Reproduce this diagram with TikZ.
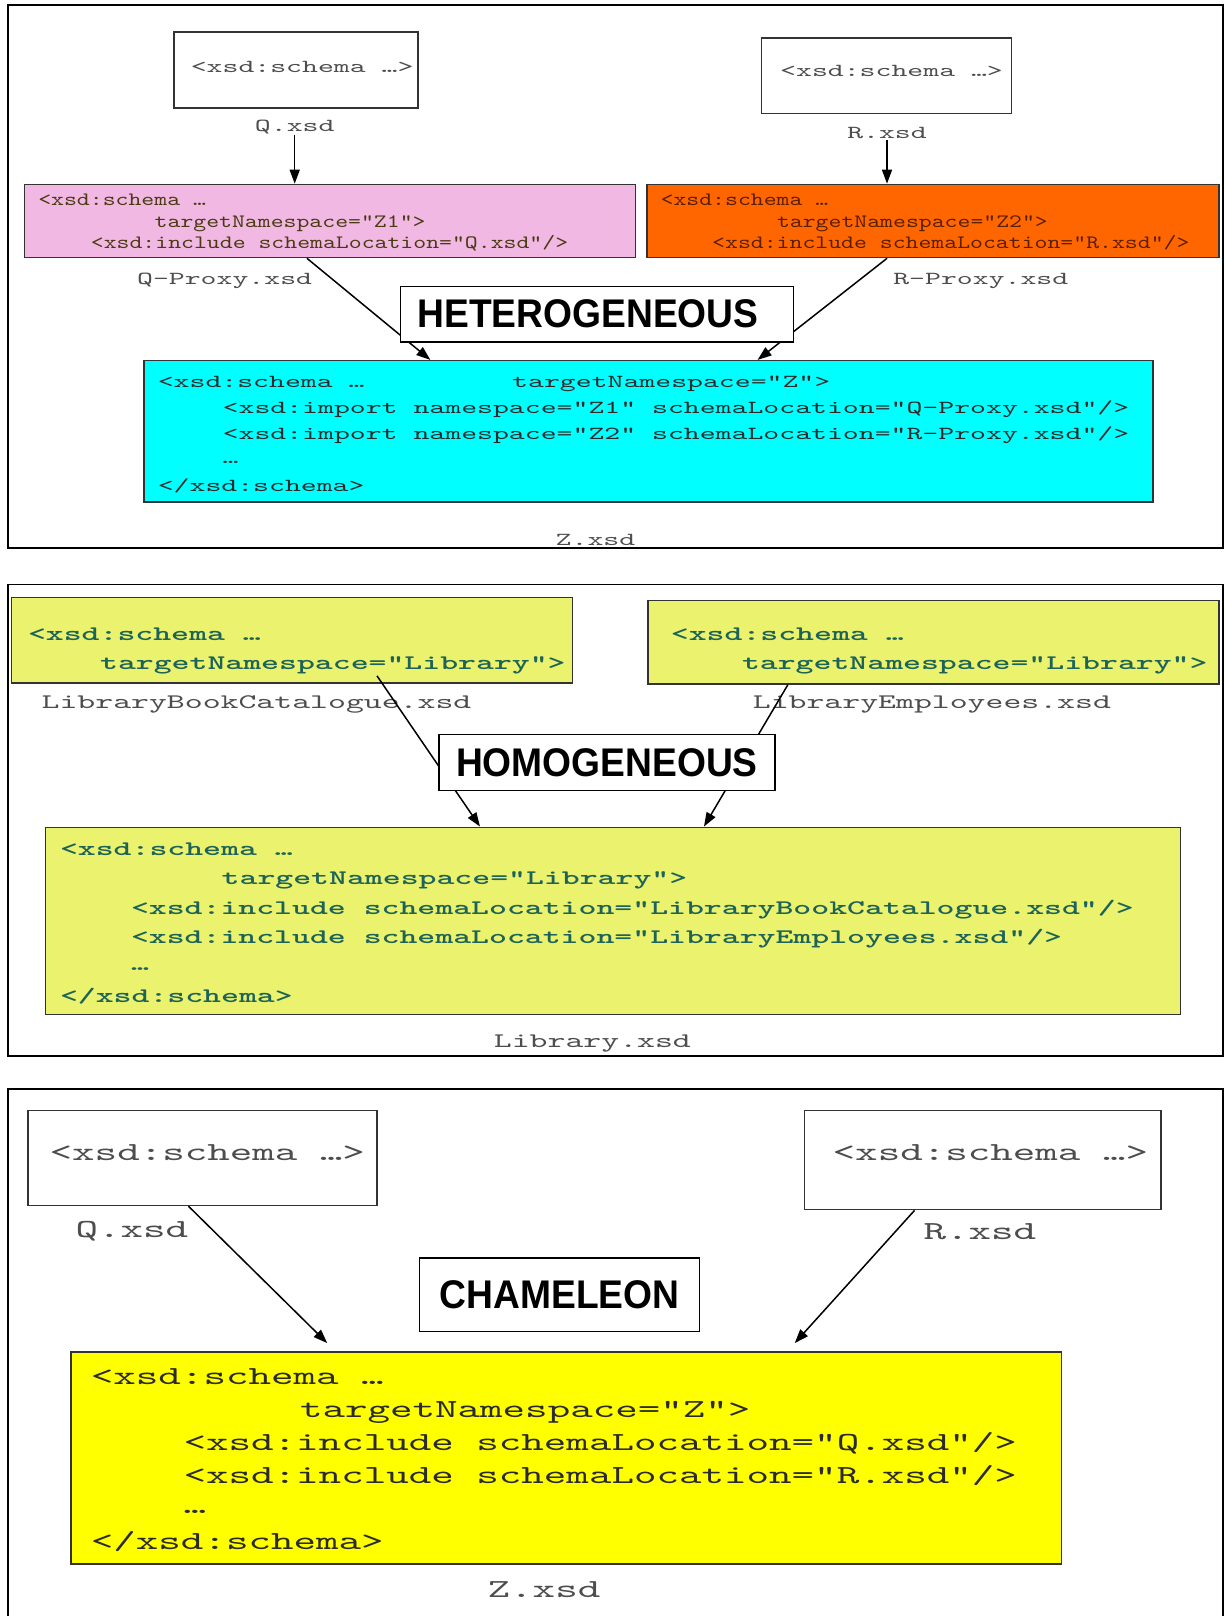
\documentclass[tikz,border=0pt]{standalone}
\usepackage{fontspec}
\usepackage{tikz}
\usetikzlibrary{arrows.meta,calc}
\newfontfamily\codefont{lmmono10-regular}[Extension=.otf,BoldFont=lmmonolt10-bold,FakeStretch=1.65]
\newfontfamily\codemidfont{lmmono10-regular}[Extension=.otf,FakeStretch=1.3]
\newfontfamily\titlefont{Liberation Sans}[FakeStretch=0.93]
\definecolor{pinkfill}{HTML}{F2B8E4}
\definecolor{orangefill}{HTML}{FF6600}
\definecolor{cyanfill}{HTML}{00FFFF}
\definecolor{limefill}{HTML}{EBF36E}
\definecolor{yellowfill}{HTML}{FFFF00}
\definecolor{pinktext}{HTML}{4A3A12}
\definecolor{orangetext}{HTML}{5A1E00}
\definecolor{tealtext}{HTML}{1D6358}
\definecolor{graytext}{HTML}{4D4D4D}
\definecolor{darktext}{HTML}{2B2B2B}

\begin{document}
\begin{tikzpicture}[x=1pt,y=-1pt]

    \tikzset{FR/.style={draw=black,line width=1.4pt}}
    \tikzset{BX/.style={draw=black!80,line width=1.4pt,inner sep=0pt}}
    \tikzset{TB/.style={draw=black,line width=1.4pt,fill=white,inner sep=0pt,font=\titlefont\bfseries\fontsize{40}{44}\selectfont}}
    \tikzset{CL/.style={anchor=mid west,inner sep=0pt,yshift=-5pt}}
    \tikzset{LB/.style={inner sep=1pt,text=graytext,yshift=-3pt}}
    \tikzset{AR/.style={draw=black,line width=1.5pt,-{Triangle[length=14pt,width=10pt]}}}
    \tikzset{PA/.style={font=\codefont\fontsize{18.36}{22}\selectfont}}
    \tikzset{PB/.style={font=\codemidfont\fontsize{18.9}{22}\selectfont}}
    \tikzset{PC/.style={font=\codefont\fontsize{20.67}{24}\selectfont}}
    \tikzset{PCB/.style={font=\codefont\bfseries\fontsize{20.67}{24}\selectfont,text=tealtext}}
    \tikzset{PD/.style={font=\codefont\fontsize{26}{30}\selectfont}}

    \useasboundingbox (0,0) rectangle (1225,1616);
    \fill[white] (0,0) rectangle (1225,1616);

    \draw[FR] (8,5) rectangle (1223,548);
    \node (q) [BX,minimum width=244,minimum height=76] at (296,70) {};
    	\node (qt) [CL,PA,text=graytext] at (190.6,65) {<xsd:schema …>};
    	\node (ql) [LB,PA] at (294.7,123.6) {Q.xsd};
    \node (r) [BX,minimum width=250.3,minimum height=75.3] at (886.5,75.6) {};
    	\node (rt) [CL,PA,text=graytext] at (780,69) {<xsd:schema …>};
    	\node (rl) [LB,PA] at (887,129.8) {R.xsd};
    \node (qp) [BX,fill=pinkfill,minimum width=611,minimum height=73.2] at (330.2,221) {};
    	\node (qp1) [CL,PB,text=pinktext] at (38.1,198.8) {<xsd:schema …};
    	\node (qp2) [CL,PB,text=pinktext] at (154.5,220.5) {targetNamespace="Z1">};
    	\node (qp3) [CL,PB,text=pinktext] at (90.7,241.1) {<xsd:include schemaLocation="Q.xsd"/>};
    	\node (qpl) [LB,PA] at (224.6,278.2) {Q-Proxy.xsd};
    \node (rp) [BX,fill=orangefill,minimum width=571.8,minimum height=73.2] at (932.9,221) {};
    	\node (rp1) [CL,PB,text=orangetext] at (660.4,198.8) {<xsd:schema …};
    	\node (rp2) [CL,PB,text=orangetext] at (776.8,220.5) {targetNamespace="Z2">};
    	\node (rp3) [CL,PB,text=orangetext] at (712,241.1) {<xsd:include schemaLocation="R.xsd"/>};
    	\node (rpl) [LB,PA] at (980.8,278.2) {R-Proxy.xsd};
    \node (z) [BX,fill=cyanfill,minimum width=1008.7,minimum height=141.2] at (648.5,431.2) {};
    	\node (z1) [CL,PA,text=darktext] at (157.6,380) {<xsd:schema …};
    	\node (z1b) [CL,PA,text=darktext] at (512,380) {targetNamespace="Z">};
    	\node (z2) [CL,PA,text=darktext] at (222.5,406) {<xsd:import namespace="Z1" schemaLocation="Q-Proxy.xsd"/>};
    	\node (z3) [CL,PA,text=darktext] at (222.5,432) {<xsd:import namespace="Z2" schemaLocation="R-Proxy.xsd"/>};
    	\node (z4) [CL,PA,text=darktext] at (222.5,456) {…};
    	\node (z5) [CL,PA,text=darktext] at (157.6,484) {</xsd:schema>};
    	\node (zl) [LB,PA] at (595.5,536.8) {Z.xsd};

    \path[AR] (ql.south) -- (ql.south |- qp.north);
    \path[AR] (rl.south) -- (rl.south |- rp.north);
    \path[AR] ($(qp.south west)!0.462!(qp.south east)$) -- ($(z.north west)!0.284!(z.north east)$);
    \path[AR] ($(rp.south west)!0.42!(rp.south east)$) -- ($(z.north west)!0.608!(z.north east)$);
    \node (het) [TB,minimum width=392.5,minimum height=55.6] at (597,314.2) {HETEROGENEOUS\hspace*{18pt}};

    \draw[FR] (8,584.2) rectangle (1223,1056);
    \node (lb) [BX,fill=limefill,minimum width=561.5,minimum height=85.5] at (292,640.4) {};
    	\node (lb1) [CL,PCB] at (27.8,633.6) {<xsd:schema …};
    	\node (lb2) [CL,PCB] at (99.9,662.5) {targetNamespace="Library">};
    	\node (lbl) [LB,PC] at (256.5,701.6) {LibraryBookCatalogue.xsd};
    \node (le) [BX,fill=limefill,minimum width=570.8,minimum height=83.4] at (933.4,642.4) {};
    	\node (le1) [CL,PCB] at (670.7,633.6) {<xsd:schema …};
    	\node (le2) [CL,PCB] at (741.8,662.5) {targetNamespace="Library">};
    	\node (lel) [LB,PC] at (931.9,701.6) {LibraryEmployees.xsd};
    \node (lz) [BX,fill=limefill,minimum width=1135.4,minimum height=187.5] at (613,921) {};
    	\node (lz1) [CL,PCB] at (59.8,848) {<xsd:schema …};
    	\node (lz2) [CL,PCB] at (221.5,877.5) {targetNamespace="Library">};
    	\node (lz3) [CL,PCB] at (130.8,907) {<xsd:include schemaLocation="LibraryBookCatalogue.xsd"/>};
    	\node (lz4) [CL,PCB] at (130.8,936.5) {<xsd:include schemaLocation="LibraryEmployees.xsd"/>};
    	\node (lz5) [CL,PCB] at (130.8,963) {…};
    	\node (lz6) [CL,PCB] at (59.8,995.5) {</xsd:schema>};
    	\node (lzl) [LB,PC] at (592.4,1040.6) {Library.xsd};

    \path[AR] ($(lb.south west)!0.651!(lb.south east) + (0,-8)$) -- ($(lz.north west)!0.383!(lz.north east)$);
    \path[AR] ($(le.south west)!0.2456!(le.south east)$) -- ($(lz.north west)!0.58!(lz.north east)$);
    \node (hom) [TB,minimum width=335.9,minimum height=55.6] at (606.9,762.4) {HOMOGENEOUS};

    \draw[FR] (8,1089) rectangle (1223,1640);
    \node (cq) [BX,minimum width=349.3,minimum height=94.8] at (202.5,1158.1) {};
    	\node (cqt) [CL,PD,text=graytext] at (49.5,1152.9) {<xsd:schema …>};
    	\node (cql) [LB,PD] at (131.9,1228.1) {Q.xsd};
    \node (cr) [BX,minimum width=356.4,minimum height=98.9] at (982.9,1160.2) {};
    	\node (crt) [CL,PD,text=graytext] at (832.5,1152.9) {<xsd:schema …>};
    	\node (crl) [LB,PD] at (979.8,1229.1) {R.xsd};
    \node (cz) [BX,fill=yellowfill,minimum width=990.1,minimum height=212.2] at (566.2,1457.9) {};
    	\node (cz1) [CL,PD,text=darktext] at (90.7,1377.5) {<xsd:schema …};
    	\node (cz2) [CL,PD,text=darktext] at (299.8,1410.5) {targetNamespace="Z">};
    	\node (cz3) [CL,PD,text=darktext] at (183.4,1443.5) {<xsd:include schemaLocation="Q.xsd"/>};
    	\node (cz4) [CL,PD,text=darktext] at (183.4,1476.5) {<xsd:include schemaLocation="R.xsd"/>};
    	\node (cz5) [CL,PD,text=darktext] at (183.4,1506.5) {…};
    	\node (cz6) [CL,PD,text=darktext] at (90.7,1542.5) {</xsd:schema>};
    	\node (czl) [LB,PD] at (544,1586.7) {Z.xsd};

    \path[AR] ($(cq.south west)!0.46!(cq.south east)$) -- ($(cz.north west)!0.259!(cz.north east) + (0,-8)$);
    \path[AR] ($(cr.south west)!0.309!(cr.south east)$) -- ($(cz.north west)!0.7305!(cz.north east) + (0,-8)$);
    \node (cha) [TB,minimum width=280.3,minimum height=73.2] at (559.5,1294.6) {CHAMELEON};

\end{tikzpicture}
\end{document}
